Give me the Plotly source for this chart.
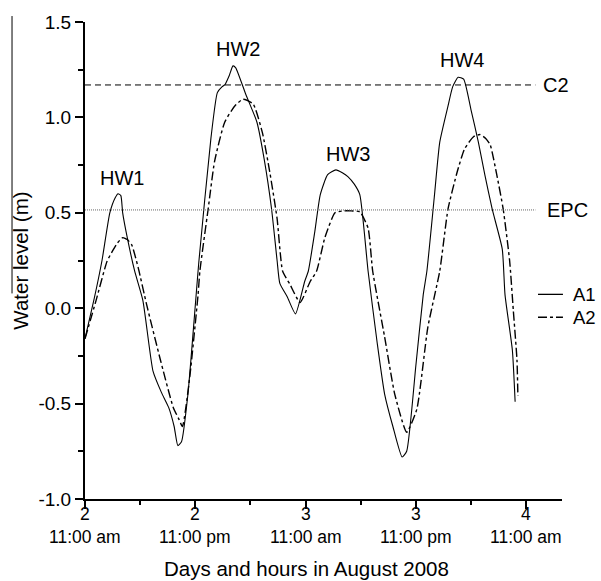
import plotly.graph_objects as go

# ---- data (hours after Aug 2, 11:00 am ; water level in m) ----
a1_hours = [0, 1.0, 1.85, 2.7, 3.3, 3.6, 3.9, 4.1, 4.6, 5.4, 6.3, 7.4, 8.3, 9.1, 9.7, 10.1, 10.5,
            11.2, 12.4, 13.7, 14.4, 14.9, 15.2, 15.7, 16.1, 16.4, 17.5, 18.7, 19.5, 20.3, 20.9,
            21.2, 22.0, 22.9, 23.9, 24.3, 25.0, 25.6, 26.4, 27.3, 28.0, 28.6, 29.3, 29.9,
            30.8, 31.8, 32.6, 33.5, 34.5, 35.0, 36.0, 36.8, 37.2, 38.0, 38.6, 39.5, 40.0,
            40.6, 41.2, 42.0, 42.8, 43.5, 44.3, 45.4, 45.7, 46.5, 46.8]
a1_level = [-0.16, 0.05, 0.25, 0.50, 0.58, 0.60, 0.59, 0.50, 0.37, 0.195, 0.04, -0.33, -0.44,
            -0.52, -0.62, -0.72, -0.70, -0.45, 0.25, 0.89, 1.13, 1.16, 1.17, 1.22, 1.27, 1.26,
            1.12, 0.976, 0.78, 0.52, 0.25, 0.13, 0.06, -0.03, 0.14, 0.195, 0.40, 0.595,
            0.70, 0.725, 0.71, 0.69, 0.65, 0.595, 0.195, -0.185, -0.45, -0.62, -0.78, -0.75,
            -0.30, 0.07, 0.195, 0.58, 0.87, 1.06, 1.16, 1.21, 1.20, 1.04, 0.87, 0.70, 0.52,
            0.31, 0.07, -0.22, -0.49]

a2_hours = [0, 1.2, 2.4, 3.0, 3.5, 4.1, 4.6, 5.1, 5.8, 6.7, 8.2, 9.6, 10.2, 10.6, 11.4, 12.3,
            12.5, 13.4, 14.1, 15.2, 16.3, 17.2, 18.3, 19.3, 20.1, 20.9, 21.5, 22.3, 23.4,
            24.5, 25.2, 26.1, 27.2, 28.1, 29.0, 29.9, 30.8, 31.3, 32.6, 33.7, 35.0, 36.1,
            37.3, 38.6, 39.5, 40.5, 41.3, 42.3, 43.0, 43.6, 44.1, 44.8, 45.5, 46.2, 46.6,
            47.0, 47.1]
a2_level = [-0.16, 0.04, 0.246, 0.30, 0.34, 0.37, 0.36, 0.33, 0.21, 0.02, -0.27, -0.52, -0.58,
            -0.62, -0.36, 0.07, 0.195, 0.52, 0.77, 0.975, 1.06, 1.095, 1.07, 0.92, 0.715,
            0.47, 0.195, 0.125, 0.03, 0.14, 0.195, 0.37, 0.50, 0.51, 0.51, 0.505, 0.42,
            0.195, -0.15, -0.45, -0.65, -0.53, -0.10, 0.195, 0.52, 0.715, 0.835, 0.90, 0.91,
            0.89, 0.855, 0.70, 0.52, 0.25, -0.01, -0.27, -0.46]

ref_names = ["C2", "EPC"]
ref_levels = [1.17, 0.515]

hw_names = ["HW1", "HW2", "HW3", "HW4"]
hw_hours = [4.0, 16.65, 28.6, 41.0]
hw_levels = [0.68, 1.356, 0.81, 1.30]

x_tickvals = [0, 12, 24, 36, 48]
x_day_labels = ["2", "2", "3", "3", "4"]
x_time_labels = ["11:00 am", "11:00 pm", "11:00 am", "11:00 pm", "11:00 am"]
y_tickvals = [-1.0, -0.5, 0.0, 0.5, 1.0, 1.5]
y_ticktext = ["-1.0", "-0.5", "0.0", "0.5", "1.0", "1.5"]

FONT = "Arial, Liberation Sans, Helvetica, sans-serif"

fig = go.Figure()
fig.add_trace(go.Scatter(x=a1_hours, y=a1_level, mode="lines", name="A1",
                         line=dict(color="black", width=1.1, shape="spline", smoothing=0.5),
                         showlegend=False))
fig.add_trace(go.Scatter(x=a2_hours, y=a2_level, mode="lines", name="A2",
                         line=dict(color="black", width=1.4, dash="dashdot", shape="spline", smoothing=0.5),
                         showlegend=False))

# reference lines
ref_styles = [dict(color="black", width=1, dash="6px,4px"), dict(color="#666666", width=1, dash="1px,1px")]
ref_label_x = [49.6, 50.0]
for name, lev, sty, lx in zip(ref_names, ref_levels, ref_styles, ref_label_x):
    fig.add_shape(type="line", xref="x", yref="y", x0=0, x1=49.0, y0=lev, y1=lev, line=sty)
    fig.add_annotation(x=lx, y=lev, xref="x", yref="y", text=name, showarrow=False,
                       xanchor="left", yanchor="middle", font=dict(size=20, color="black", family=FONT))

for name, hx, hy in zip(hw_names, hw_hours, hw_levels):
    fig.add_annotation(x=hx, y=hy, xref="x", yref="y", text=name, showarrow=False,
                       xanchor="center", yanchor="middle", font=dict(size=20, color="black", family=FONT))

# x tick labels (day over time, two lines in one text)
for xv, d, t in zip(x_tickvals, x_day_labels, x_time_labels):
    fig.add_annotation(x=xv, y=-0.0552, xref="x", yref="paper", text=f"{d}<br>{t}", showarrow=False,
                       xanchor="center", yanchor="middle", align="center",
                       font=dict(size=17.5, color="black", family=FONT))

# manual legend
leg = [("A1", "solid", 0.429), ("A2", "dashdot", 0.381)]
for name, dash, yp in leg:
    fig.add_shape(type="line", xref="paper", yref="paper", x0=0.9497, x1=1.002, y0=yp, y1=yp,
                  line=dict(color="black", width=1.3, dash=dash))
    fig.add_annotation(x=1.019, y=yp, xref="paper", yref="paper", text=name, showarrow=False,
                       xanchor="left", yanchor="middle", font=dict(size=18.5, color="black", family=FONT))

# axis titles
fig.add_annotation(x=-0.136, y=0.5, xref="paper", yref="paper", text="Water level (m)",
                   textangle=-90, showarrow=False, xanchor="center", yanchor="middle",
                   font=dict(size=20.5, color="black", family=FONT))
fig.add_annotation(x=0.465, y=-0.146, xref="paper", yref="paper", text="Days and hours in August 2008",
                   showarrow=False, xanchor="center", yanchor="middle",
                   font=dict(size=20.5, color="black", family=FONT))
# stray vertical line at left edge of the original figure
fig.add_shape(type="line", xref="paper", yref="paper", x0=-0.153, x1=-0.153, y0=0.431, y1=1.0125,
              line=dict(color="black", width=1))

fig.update_layout(
    width=601, height=581,
    margin=dict(l=85, r=39, t=19, b=82),
    plot_bgcolor="white", paper_bgcolor="white",
    font=dict(family=FONT, color="black", size=16),
    xaxis=dict(range=[0, 51.9], tickvals=x_tickvals, showticklabels=False,
               ticks="outside", ticklen=8, tickwidth=2, tickcolor="black",
               showline=True, linewidth=2, linecolor="black", showgrid=False, zeroline=False,
               minor=dict(tickvals=[6, 18, 30, 42], ticks="outside", ticklen=4, tickwidth=2,
                          tickcolor="black")),
    yaxis=dict(range=[-1.0, 1.5], tickvals=y_tickvals, ticktext=y_ticktext,
               ticks="outside", ticklen=8, tickwidth=2, tickcolor="black",
               showline=True, linewidth=2, linecolor="black", showgrid=False, zeroline=False,
               tickfont=dict(size=19),
               minor=dict(tickvals=[-0.75, -0.25, 0.25, 0.75, 1.25], ticks="outside", ticklen=5,
                          tickwidth=2, tickcolor="black")),
)

# remove the browser's default 8px page margin so the figure fills the 601x581 window
fig.write_html("out.html", config={"displayModeBar": False},
               post_script="document.body.style.margin='0';")
